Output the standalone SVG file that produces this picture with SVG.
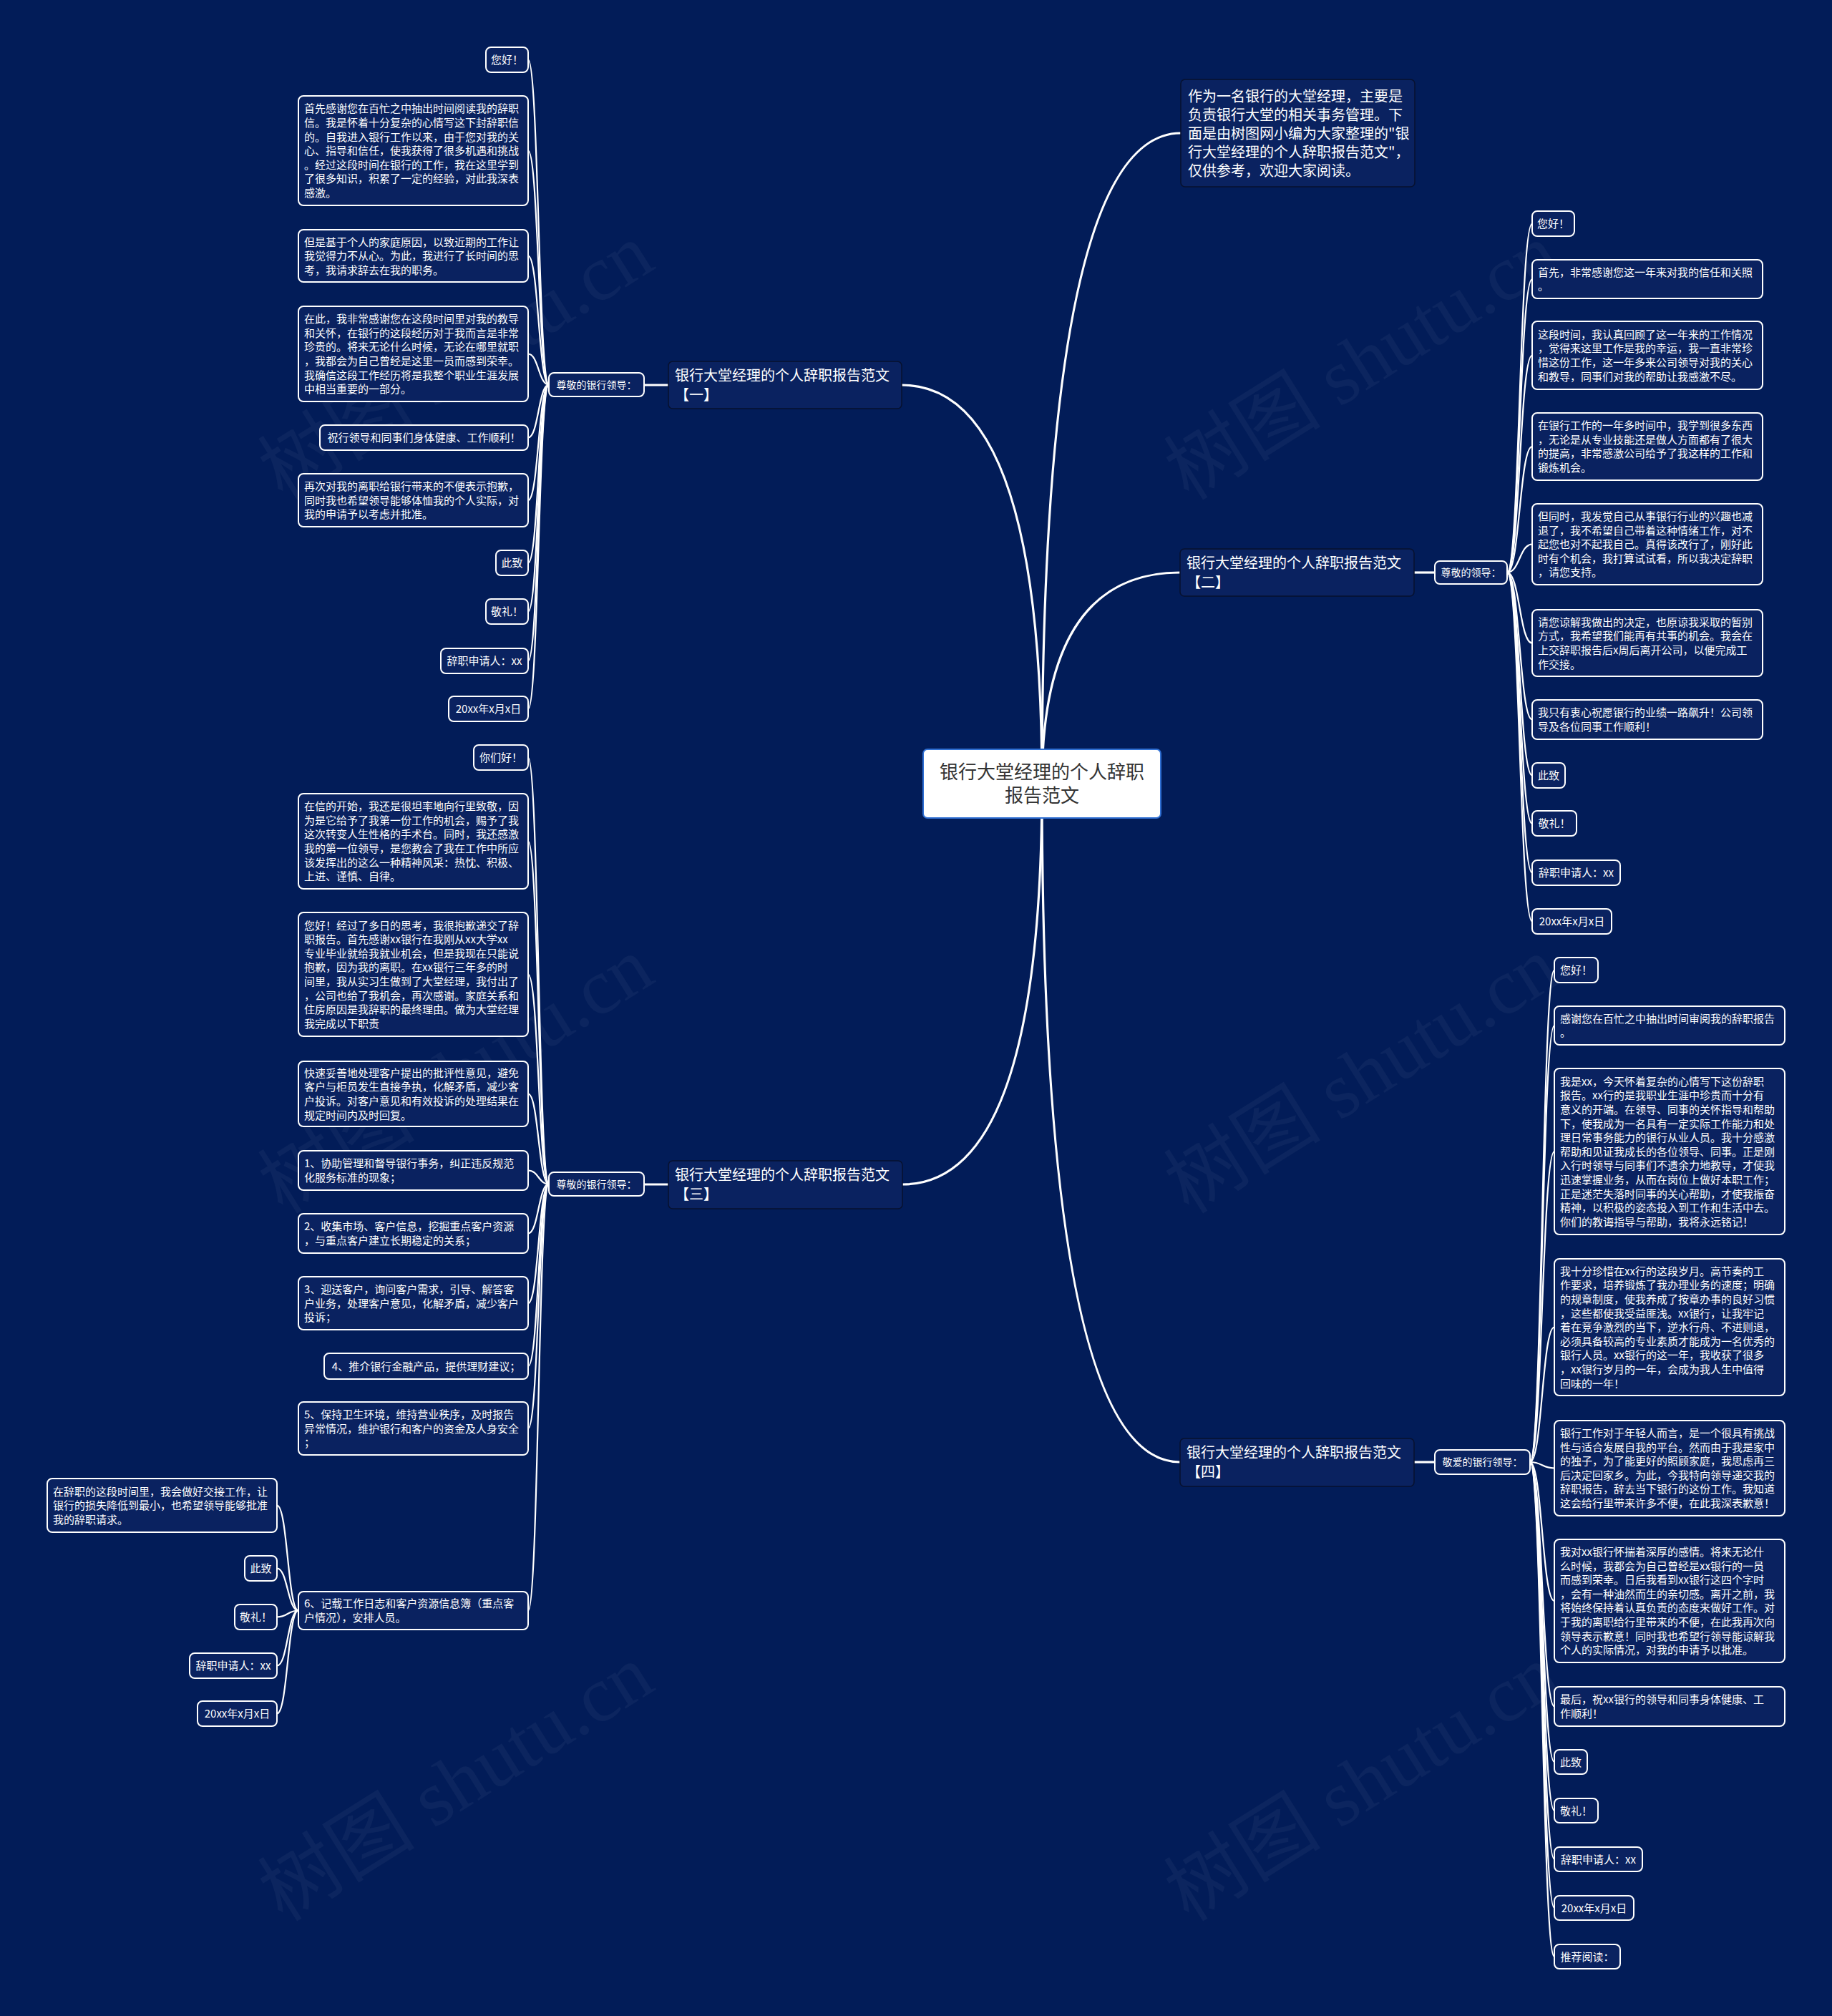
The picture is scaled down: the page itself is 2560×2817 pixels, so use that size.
<svg xmlns="http://www.w3.org/2000/svg" width="2560" height="2817" viewBox="0 0 2560 2817">
<style>
text{font-family:"Noto Sans CJK SC","Noto Sans","Liberation Sans",sans-serif;fill:#fff}
.lf{fill:#0a2260;stroke:#fff;stroke-width:2}
.bn{fill:#0a2260;stroke:#07112e;stroke-width:1.5}
.t15{font-size:15px}
.t14{font-size:14px}
.t20{font-size:20px}
.c{text-anchor:middle}
.main{fill:none;stroke:#fff;stroke-width:3.2}
.lc{fill:none;stroke:#fff;stroke-width:2.2}
.wm{font-family:"Liberation Serif","Noto Sans CJK SC",serif;font-size:110px;fill:#fff;fill-opacity:0.045;text-anchor:middle}
</style>
<rect width="2560" height="2817" fill="#021c58"/>
<g id="watermarks">
<text class="wm" x="647" y="540" transform="rotate(-32 647 521)">树图 shutu.cn</text>
<text class="wm" x="647" y="1537" transform="rotate(-32 647 1518)">树图 shutu.cn</text>
<text class="wm" x="647" y="2526" transform="rotate(-32 647 2507)">树图 shutu.cn</text>
<text class="wm" x="1913" y="540" transform="rotate(-32 1913 521)">树图 shutu.cn</text>
<text class="wm" x="1913" y="1537" transform="rotate(-32 1913 1518)">树图 shutu.cn</text>
<text class="wm" x="1913" y="2526" transform="rotate(-32 1913 2507)">树图 shutu.cn</text>
</g>
<g id="connectors">
<path class="main" d="M1456,1095 Q1456,186 1650,186"/>
<path class="main" d="M1456,1095 Q1456,800 1649,800"/>
<path class="main" d="M1456,1095 Q1456,2043 1649,2043"/>
<path class="main" d="M1456,1095 Q1456,538 1260,538"/>
<path class="main" d="M1456,1095 Q1456,1655 1261,1655"/>
<path class="main" d="M934,538 L900,538"/>
<path class="main" d="M934,1655 L900,1655"/>
<path class="main" d="M1976,800 L2005,800"/>
<path class="main" d="M1976,2043 L2005,2043"/>
<path class="lc" d="M767,537.5 C752.5,537.5 752.5,83.5 738,83.5"/>
<path class="lc" d="M767,537.5 C752.5,537.5 752.5,210.5 738,210.5"/>
<path class="lc" d="M767,537.5 C752.5,537.5 752.5,357.5 738,357.5"/>
<path class="lc" d="M767,537.5 C752.5,537.5 752.5,494.5 738,494.5"/>
<path class="lc" d="M767,537.5 C752.5,537.5 752.5,611.5 738,611.5"/>
<path class="lc" d="M767,537.5 C752.5,537.5 752.5,699 738,699"/>
<path class="lc" d="M767,537.5 C752.5,537.5 752.5,786.5 738,786.5"/>
<path class="lc" d="M767,537.5 C752.5,537.5 752.5,854.5 738,854.5"/>
<path class="lc" d="M767,537.5 C752.5,537.5 752.5,923.5 738,923.5"/>
<path class="lc" d="M767,537.5 C752.5,537.5 752.5,990.5 738,990.5"/>
<path class="lc" d="M767,1654.5 C752.5,1654.5 752.5,1058.5 738,1058.5"/>
<path class="lc" d="M767,1654.5 C752.5,1654.5 752.5,1175.5 738,1175.5"/>
<path class="lc" d="M767,1654.5 C752.5,1654.5 752.5,1361.5 738,1361.5"/>
<path class="lc" d="M767,1654.5 C752.5,1654.5 752.5,1528.5 738,1528.5"/>
<path class="lc" d="M767,1654.5 C752.5,1654.5 752.5,1635.5 738,1635.5"/>
<path class="lc" d="M767,1654.5 C752.5,1654.5 752.5,1723.5 738,1723.5"/>
<path class="lc" d="M767,1654.5 C752.5,1654.5 752.5,1821 738,1821"/>
<path class="lc" d="M767,1654.5 C752.5,1654.5 752.5,1909 738,1909"/>
<path class="lc" d="M767,1654.5 C752.5,1654.5 752.5,1996 738,1996"/>
<path class="lc" d="M767,1654.5 C752.5,1654.5 752.5,2250.5 738,2250.5"/>
<path class="lc" d="M417,2250.5 C402,2250.5 402,2103.5 387,2103.5"/>
<path class="lc" d="M417,2250.5 C402,2250.5 402,2191.5 387,2191.5"/>
<path class="lc" d="M417,2250.5 C402,2250.5 402,2259.5 387,2259.5"/>
<path class="lc" d="M417,2250.5 C402,2250.5 402,2327.5 387,2327.5"/>
<path class="lc" d="M417,2250.5 C402,2250.5 402,2394.5 387,2394.5"/>
<path class="lc" d="M2106,800 C2123.5,800 2123.5,312.5 2141,312.5"/>
<path class="lc" d="M2106,800 C2123.5,800 2123.5,390 2141,390"/>
<path class="lc" d="M2106,800 C2123.5,800 2123.5,496.5 2141,496.5"/>
<path class="lc" d="M2106,800 C2123.5,800 2123.5,624 2141,624"/>
<path class="lc" d="M2106,800 C2123.5,800 2123.5,760.5 2141,760.5"/>
<path class="lc" d="M2106,800 C2123.5,800 2123.5,898.5 2141,898.5"/>
<path class="lc" d="M2106,800 C2123.5,800 2123.5,1005.5 2141,1005.5"/>
<path class="lc" d="M2106,800 C2123.5,800 2123.5,1083.5 2141,1083.5"/>
<path class="lc" d="M2106,800 C2123.5,800 2123.5,1151 2141,1151"/>
<path class="lc" d="M2106,800 C2123.5,800 2123.5,1219.5 2141,1219.5"/>
<path class="lc" d="M2106,800 C2123.5,800 2123.5,1287.5 2141,1287.5"/>
<path class="lc" d="M2138,2043 C2155,2043 2155,1355.5 2172,1355.5"/>
<path class="lc" d="M2138,2043 C2155,2043 2155,1433 2172,1433"/>
<path class="lc" d="M2138,2043 C2155,2043 2155,1609 2172,1609"/>
<path class="lc" d="M2138,2043 C2155,2043 2155,1854.5 2172,1854.5"/>
<path class="lc" d="M2138,2043 C2155,2043 2155,2051.5 2172,2051.5"/>
<path class="lc" d="M2138,2043 C2155,2043 2155,2237 2172,2237"/>
<path class="lc" d="M2138,2043 C2155,2043 2155,2384.5 2172,2384.5"/>
<path class="lc" d="M2138,2043 C2155,2043 2155,2462 2172,2462"/>
<path class="lc" d="M2138,2043 C2155,2043 2155,2530 2172,2530"/>
<path class="lc" d="M2138,2043 C2155,2043 2155,2598 2172,2598"/>
<path class="lc" d="M2138,2043 C2155,2043 2155,2666 2172,2666"/>
<path class="lc" d="M2138,2043 C2155,2043 2155,2734 2172,2734"/>
</g>

<g id="root">
<rect x="1290" y="1047" width="332" height="96" rx="6" fill="#fff" stroke="#2f6fd3" stroke-width="2"/>
<text x="1456" y="1088" class="c" style="font-size:26px;fill:#333">银行大堂经理的个人辞职</text>
<text x="1456" y="1121" class="c" style="font-size:26px;fill:#333">报告范文</text>
</g>

<g id="intro">
<rect class="bn" x="1650" y="111" width="327" height="150" rx="6"/>
<text class="t20"><tspan x="1660" y="142">作为一名银行的大堂经理，主要是</tspan><tspan x="1660" y="168">负责银行大堂的相关事务管理。下</tspan><tspan x="1660" y="194">面是由树图网小编为大家整理的"银</tspan><tspan x="1660" y="220">行大堂经理的个人辞职报告范文"，</tspan><tspan x="1660" y="246">仅供参考，欢迎大家阅读。</tspan></text>
</g>

<g id="b1">
<rect class="bn" x="934" y="505" width="326" height="66" rx="6"/>
<text class="t20"><tspan x="943" y="532">银行大堂经理的个人辞职报告范文</tspan><tspan x="943" y="559">【一】</tspan></text>
</g>
<g id="b1-sub"><rect class="lf" x="767" y="521" width="133" height="33" rx="7"/><text class="t14 c" x="833.5" y="542.5">尊敬的银行领导：</text></g>
<g id="b1-l1"><rect class="lf" x="679" y="66" width="59" height="35" rx="7"/><text class="t15 c" x="708.5" y="89">您好！</text></g>
<g id="b1-l2"><rect class="lf" x="417" y="134" width="321" height="153" rx="7"/><text class="t15"><tspan x="425" y="157">首先感谢您在百忙之中抽出时间阅读我的辞职</tspan><tspan x="425" y="177">信。我是怀着十分复杂的心情写这下封辞职信</tspan><tspan x="425" y="197">的。自我进入银行工作以来，由于您对我的关</tspan><tspan x="425" y="216">心、指导和信任，使我获得了很多机遇和挑战</tspan><tspan x="425" y="236">。经过这段时间在银行的工作，我在这里学到</tspan><tspan x="425" y="255">了很多知识，积累了一定的经验，对此我深表</tspan><tspan x="425" y="275">感激。</tspan></text></g>
<g id="b1-l3"><rect class="lf" x="417" y="321" width="321" height="73" rx="7"/><text class="t15"><tspan x="425" y="344">但是基于个人的家庭原因，以致近期的工作让</tspan><tspan x="425" y="363">我觉得力不从心。为此，我进行了长时间的思</tspan><tspan x="425" y="383">考，我请求辞去在我的职务。</tspan></text></g>
<g id="b1-l4"><rect class="lf" x="417" y="428" width="321" height="133" rx="7"/><text class="t15"><tspan x="425" y="451">在此，我非常感谢您在这段时间里对我的教导</tspan><tspan x="425" y="471">和关怀，在银行的这段经历对于我而言是非常</tspan><tspan x="425" y="490">珍贵的。将来无论什么时候，无论在哪里就职</tspan><tspan x="425" y="510">，我都会为自己曾经是这里一员而感到荣幸。</tspan><tspan x="425" y="530">我确信这段工作经历将是我整个职业生涯发展</tspan><tspan x="425" y="549">中相当重要的一部分。</tspan></text></g>
<g id="b1-l5"><rect class="lf" x="447" y="594" width="291" height="35" rx="7"/><text class="t15 c" x="592.5" y="617">祝行领导和同事们身体健康、工作顺利！</text></g>
<g id="b1-l6"><rect class="lf" x="417" y="662" width="321" height="74" rx="7"/><text class="t15"><tspan x="425" y="685">再次对我的离职给银行带来的不便表示抱歉，</tspan><tspan x="425" y="705">同时我也希望领导能够体恤我的个人实际，对</tspan><tspan x="425" y="724">我的申请予以考虑并批准。</tspan></text></g>
<g id="b1-l7"><rect class="lf" x="693" y="769" width="45" height="35" rx="7"/><text class="t15 c" x="715.5" y="792">此致</text></g>
<g id="b1-l8"><rect class="lf" x="679" y="837" width="59" height="35" rx="7"/><text class="t15 c" x="708.5" y="860">敬礼！</text></g>
<g id="b1-l9"><rect class="lf" x="616" y="906" width="122" height="35" rx="7"/><text class="t15 c" x="677" y="929">辞职申请人：xx</text></g>
<g id="b1-l10"><rect class="lf" x="627" y="973" width="111" height="35" rx="7"/><text class="t15 c" x="682.5" y="996">20xx年x月x日</text></g>

<g id="b3">
<rect class="bn" x="934" y="1622" width="327" height="67" rx="6"/>
<text class="t20"><tspan x="943" y="1649">银行大堂经理的个人辞职报告范文</tspan><tspan x="943" y="1676">【三】</tspan></text>
</g>
<g id="b3-sub"><rect class="lf" x="767" y="1638" width="133" height="33" rx="7"/><text class="t14 c" x="833.5" y="1659.5">尊敬的银行领导：</text></g>
<g id="b3-l1"><rect class="lf" x="662" y="1041" width="76" height="35" rx="7"/><text class="t15 c" x="700" y="1064">你们好！</text></g>
<g id="b3-l2"><rect class="lf" x="417" y="1109" width="321" height="133" rx="7"/><text class="t15"><tspan x="425" y="1132">在信的开始，我还是很坦率地向行里致敬，因</tspan><tspan x="425" y="1152">为是它给予了我第一份工作的机会，赐予了我</tspan><tspan x="425" y="1171">这次转变人生性格的手术台。同时，我还感激</tspan><tspan x="425" y="1191">我的第一位领导，是您教会了我在工作中所应</tspan><tspan x="425" y="1211">该发挥出的这么一种精神风采：热忱、积极、</tspan><tspan x="425" y="1230">上进、谨慎、自律。</tspan></text></g>
<g id="b3-l3"><rect class="lf" x="417" y="1275" width="321" height="173" rx="7"/><text class="t15"><tspan x="425" y="1299">您好！经过了多日的思考，我很抱歉递交了辞</tspan><tspan x="425" y="1318">职报告。首先感谢xx银行在我刚从xx大学xx</tspan><tspan x="425" y="1338">专业毕业就给我就业机会，但是我现在只能说</tspan><tspan x="425" y="1357">抱歉，因为我的离职。在xx银行三年多的时</tspan><tspan x="425" y="1377">间里，我从实习生做到了大堂经理，我付出了</tspan><tspan x="425" y="1397">，公司也给了我机会，再次感谢。家庭关系和</tspan><tspan x="425" y="1416">住房原因是我辞职的最终理由。做为大堂经理</tspan><tspan x="425" y="1436">我完成以下职责</tspan></text></g>
<g id="b3-l4"><rect class="lf" x="417" y="1483" width="321" height="91" rx="7"/><text class="t15"><tspan x="425" y="1505">快速妥善地处理客户提出的批评性意见，避免</tspan><tspan x="425" y="1524">客户与柜员发生直接争执，化解矛盾，减少客</tspan><tspan x="425" y="1544">户投诉。对客户意见和有效投诉的处理结果在</tspan><tspan x="425" y="1564">规定时间内及时回复。</tspan></text></g>
<g id="b3-l5"><rect class="lf" x="417" y="1608" width="321" height="55" rx="7"/><text class="t15"><tspan x="425" y="1631">1、协助管理和督导银行事务，纠正违反规范</tspan><tspan x="425" y="1651">化服务标准的现象；</tspan></text></g>
<g id="b3-l6"><rect class="lf" x="417" y="1696" width="321" height="55" rx="7"/><text class="t15"><tspan x="425" y="1719">2、收集市场、客户信息，挖掘重点客户资源</tspan><tspan x="425" y="1739">，与重点客户建立长期稳定的关系；</tspan></text></g>
<g id="b3-l7"><rect class="lf" x="417" y="1784" width="321" height="74" rx="7"/><text class="t15"><tspan x="425" y="1807">3、迎送客户，询问客户需求，引导、解答客</tspan><tspan x="425" y="1827">户业务，处理客户意见，化解矛盾，减少客户</tspan><tspan x="425" y="1846">投诉；</tspan></text></g>
<g id="b3-l8"><rect class="lf" x="453" y="1891" width="285" height="36" rx="7"/><text class="t15 c" x="595.5" y="1915">4、推介银行金融产品，提供理财建议；</text></g>
<g id="b3-l9"><rect class="lf" x="417" y="1959" width="321" height="74" rx="7"/><text class="t15"><tspan x="425" y="1982">5、保持卫生环境，维持营业秩序，及时报告</tspan><tspan x="425" y="2002">异常情况，维护银行和客户的资金及人身安全</tspan><tspan x="425" y="2021">；</tspan></text></g>
<g id="b3-l10"><rect class="lf" x="417" y="2224" width="321" height="53" rx="7"/><text class="t15"><tspan x="425" y="2246">6、记载工作日志和客户资源信息簿（重点客</tspan><tspan x="425" y="2266">户情况），安排人员。</tspan></text></g>
<g id="b3-l10-1"><rect class="lf" x="66" y="2066" width="321" height="75" rx="7"/><text class="t15"><tspan x="74" y="2090">在辞职的这段时间里，我会做好交接工作，让</tspan><tspan x="74" y="2109">银行的损失降低到最小，也希望领导能够批准</tspan><tspan x="74" y="2129">我的辞职请求。</tspan></text></g>
<g id="b3-l10-2"><rect class="lf" x="342" y="2174" width="45" height="35" rx="7"/><text class="t15 c" x="364.5" y="2197">此致</text></g>
<g id="b3-l10-3"><rect class="lf" x="328" y="2242" width="59" height="35" rx="7"/><text class="t15 c" x="357.5" y="2265">敬礼！</text></g>
<g id="b3-l10-4"><rect class="lf" x="265" y="2310" width="122" height="35" rx="7"/><text class="t15 c" x="326" y="2333">辞职申请人：xx</text></g>
<g id="b3-l10-5"><rect class="lf" x="276" y="2377" width="111" height="35" rx="7"/><text class="t15 c" x="331.5" y="2400">20xx年x月x日</text></g>

<g id="b2">
<rect class="bn" x="1649" y="767" width="327" height="66" rx="6"/>
<text class="t20"><tspan x="1658" y="794">银行大堂经理的个人辞职报告范文</tspan><tspan x="1658" y="821">【二】</tspan></text>
</g>
<g id="b2-sub"><rect class="lf" x="2005" y="784" width="101" height="32" rx="7"/><text class="t14 c" x="2055.5" y="805">尊敬的领导：</text></g>
<g id="b2-l1"><rect class="lf" x="2141" y="295" width="59" height="35" rx="7"/><text class="t15 c" x="2170.5" y="318">您好！</text></g>
<g id="b2-l2"><rect class="lf" x="2141" y="363" width="322" height="54" rx="7"/><text class="t15"><tspan x="2149" y="386">首先，非常感谢您这一年来对我的信任和关照</tspan><tspan x="2149" y="405">。</tspan></text></g>
<g id="b2-l3"><rect class="lf" x="2141" y="449" width="322" height="95" rx="7"/><text class="t15"><tspan x="2149" y="473">这段时间，我认真回顾了这一年来的工作情况</tspan><tspan x="2149" y="492">，觉得来这里工作是我的幸运，我一直非常珍</tspan><tspan x="2149" y="512">惜这份工作，这一年多来公司领导对我的关心</tspan><tspan x="2149" y="532">和教导，同事们对我的帮助让我感激不尽。</tspan></text></g>
<g id="b2-l4"><rect class="lf" x="2141" y="577" width="322" height="94" rx="7"/><text class="t15"><tspan x="2149" y="600">在银行工作的一年多时间中，我学到很多东西</tspan><tspan x="2149" y="620">，无论是从专业技能还是做人方面都有了很大</tspan><tspan x="2149" y="639">的提高，非常感激公司给予了我这样的工作和</tspan><tspan x="2149" y="659">锻炼机会。</tspan></text></g>
<g id="b2-l5"><rect class="lf" x="2141" y="704" width="322" height="113" rx="7"/><text class="t15"><tspan x="2149" y="727">但同时，我发觉自己从事银行行业的兴趣也减</tspan><tspan x="2149" y="747">退了，我不希望自己带着这种情绪工作，对不</tspan><tspan x="2149" y="766">起您也对不起我自己。真得该改行了，刚好此</tspan><tspan x="2149" y="786">时有个机会，我打算试试看，所以我决定辞职</tspan><tspan x="2149" y="805">，请您支持。</tspan></text></g>
<g id="b2-l6"><rect class="lf" x="2141" y="852" width="322" height="93" rx="7"/><text class="t15"><tspan x="2149" y="875">请您谅解我做出的决定，也原谅我采取的暂别</tspan><tspan x="2149" y="894">方式，我希望我们能再有共事的机会。我会在</tspan><tspan x="2149" y="914">上交辞职报告后x周后离开公司，以便完成工</tspan><tspan x="2149" y="934">作交接。</tspan></text></g>
<g id="b2-l7"><rect class="lf" x="2141" y="978" width="322" height="55" rx="7"/><text class="t15"><tspan x="2149" y="1001">我只有衷心祝愿银行的业绩一路飙升！公司领</tspan><tspan x="2149" y="1021">导及各位同事工作顺利！</tspan></text></g>
<g id="b2-l8"><rect class="lf" x="2141" y="1066" width="46" height="35" rx="7"/><text class="t15 c" x="2164" y="1089">此致</text></g>
<g id="b2-l9"><rect class="lf" x="2141" y="1133" width="62" height="35" rx="7"/><text class="t15 c" x="2172" y="1156">敬礼！</text></g>
<g id="b2-l10"><rect class="lf" x="2141" y="1202" width="123" height="35" rx="7"/><text class="t15 c" x="2202.5" y="1225">辞职申请人：xx</text></g>
<g id="b2-l11"><rect class="lf" x="2141" y="1270" width="111" height="35" rx="7"/><text class="t15 c" x="2196.5" y="1293">20xx年x月x日</text></g>

<g id="b4">
<rect class="bn" x="1649" y="2010" width="327" height="67" rx="6"/>
<text class="t20"><tspan x="1658" y="2037">银行大堂经理的个人辞职报告范文</tspan><tspan x="1658" y="2064">【四】</tspan></text>
</g>
<g id="b4-sub"><rect class="lf" x="2005" y="2026" width="133" height="34" rx="7"/><text class="t14 c" x="2071.5" y="2048">敬爱的银行领导：</text></g>
<g id="b4-l1"><rect class="lf" x="2172" y="1338" width="61" height="35" rx="7"/><text class="t15 c" x="2202.5" y="1361">您好！</text></g>
<g id="b4-l2"><rect class="lf" x="2172" y="1406" width="322" height="54" rx="7"/><text class="t15"><tspan x="2180" y="1429">感谢您在百忙之中抽出时间审阅我的辞职报告</tspan><tspan x="2180" y="1448">。</tspan></text></g>
<g id="b4-l3"><rect class="lf" x="2172" y="1493" width="322" height="232" rx="7"/><text class="t15"><tspan x="2180" y="1517">我是xx，今天怀着复杂的心情写下这份辞职</tspan><tspan x="2180" y="1536">报告。xx行的是我职业生涯中珍贵而十分有</tspan><tspan x="2180" y="1556">意义的开端。在领导、同事的关怀指导和帮助</tspan><tspan x="2180" y="1576">下，使我成为一名具有一定实际工作能力和处</tspan><tspan x="2180" y="1595">理日常事务能力的银行从业人员。我十分感激</tspan><tspan x="2180" y="1615">帮助和见证我成长的各位领导、同事。正是刚</tspan><tspan x="2180" y="1634">入行时领导与同事们不遗余力地教导，才使我</tspan><tspan x="2180" y="1654">迅速掌握业务，从而在岗位上做好本职工作；</tspan><tspan x="2180" y="1674">正是迷茫失落时同事的关心帮助，才使我振奋</tspan><tspan x="2180" y="1693">精神，以积极的姿态投入到工作和生活中去。</tspan><tspan x="2180" y="1713">你们的教诲指导与帮助，我将永远铭记！</tspan></text></g>
<g id="b4-l4"><rect class="lf" x="2172" y="1759" width="322" height="191" rx="7"/><text class="t15"><tspan x="2180" y="1782">我十分珍惜在xx行的这段岁月。高节奏的工</tspan><tspan x="2180" y="1801">作要求，培养锻炼了我办理业务的速度；明确</tspan><tspan x="2180" y="1821">的规章制度，使我养成了按章办事的良好习惯</tspan><tspan x="2180" y="1841">，这些都使我受益匪浅。xx银行，让我牢记</tspan><tspan x="2180" y="1860">着在竞争激烈的当下，逆水行舟、不进则退，</tspan><tspan x="2180" y="1880">必须具备较高的专业素质才能成为一名优秀的</tspan><tspan x="2180" y="1899">银行人员。xx银行的这一年，我收获了很多</tspan><tspan x="2180" y="1919">，xx银行岁月的一年，会成为我人生中值得</tspan><tspan x="2180" y="1939">回味的一年！</tspan></text></g>
<g id="b4-l5"><rect class="lf" x="2172" y="1985" width="322" height="133" rx="7"/><text class="t15"><tspan x="2180" y="2008">银行工作对于年轻人而言，是一个很具有挑战</tspan><tspan x="2180" y="2028">性与适合发展自我的平台。然而由于我是家中</tspan><tspan x="2180" y="2047">的独子，为了能更好的照顾家庭，我思虑再三</tspan><tspan x="2180" y="2067">后决定回家乡。为此，今我特向领导递交我的</tspan><tspan x="2180" y="2086">辞职报告，辞去当下银行的这份工作。我知道</tspan><tspan x="2180" y="2106">这会给行里带来许多不便，在此我深表歉意！</tspan></text></g>
<g id="b4-l6"><rect class="lf" x="2172" y="2151" width="322" height="172" rx="7"/><text class="t15"><tspan x="2180" y="2174">我对xx银行怀揣着深厚的感情。将来无论什</tspan><tspan x="2180" y="2194">么时候，我都会为自己曾经是xx银行的一员</tspan><tspan x="2180" y="2213">而感到荣幸。日后我看到xx银行这四个字时</tspan><tspan x="2180" y="2233">，会有一种油然而生的亲切感。离开之前，我</tspan><tspan x="2180" y="2252">将始终保持着认真负责的态度来做好工作。对</tspan><tspan x="2180" y="2272">于我的离职给行里带来的不便，在此我再次向</tspan><tspan x="2180" y="2292">领导表示歉意！同时我也希望行领导能谅解我</tspan><tspan x="2180" y="2311">个人的实际情况，对我的申请予以批准。</tspan></text></g>
<g id="b4-l7"><rect class="lf" x="2172" y="2357" width="322" height="55" rx="7"/><text class="t15"><tspan x="2180" y="2380">最后，祝xx银行的领导和同事身体健康、工</tspan><tspan x="2180" y="2400">作顺利！</tspan></text></g>
<g id="b4-l8"><rect class="lf" x="2172" y="2445" width="46" height="34" rx="7"/><text class="t15 c" x="2195" y="2468">此致</text></g>
<g id="b4-l9"><rect class="lf" x="2172" y="2513" width="61" height="34" rx="7"/><text class="t15 c" x="2202.5" y="2536">敬礼！</text></g>
<g id="b4-l10"><rect class="lf" x="2172" y="2581" width="123" height="34" rx="7"/><text class="t15 c" x="2233.5" y="2604">辞职申请人：xx</text></g>
<g id="b4-l11"><rect class="lf" x="2172" y="2649" width="111" height="34" rx="7"/><text class="t15 c" x="2227.5" y="2672">20xx年x月x日</text></g>
<g id="b4-l12"><rect class="lf" x="2172" y="2717" width="92" height="34" rx="7"/><text class="t15 c" x="2218" y="2740">推荐阅读：</text></g>
</svg>
